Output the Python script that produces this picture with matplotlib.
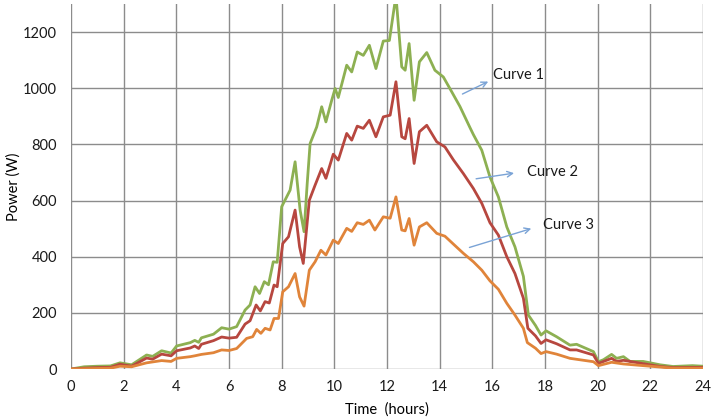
import numpy as np
import matplotlib
matplotlib.use("Agg")
import matplotlib.pyplot as plt

plt.rcParams['font.family'] = ['Lato', 'DejaVu Sans']

# Curve 1 (green) - time in hours, power in W
t1 = [0, 0.5, 1.0, 1.5, 1.86, 2.3, 2.87, 3.1, 3.44, 3.8, 4.01, 4.53, 4.7, 4.85, 4.95,
      5.41, 5.72, 6.0, 6.29, 6.61, 6.8, 6.99, 7.16, 7.34, 7.5, 7.68, 7.83, 8.0, 8.32,
      8.51, 8.7, 8.85, 8.97, 9.08, 9.33, 9.52, 9.68, 9.9, 10.03, 10.15, 10.47, 10.66,
      10.87, 11.1, 11.33, 11.58, 11.86, 12.09, 12.34, 12.56, 12.69, 12.84, 13.03, 13.23,
      13.51, 13.82, 14.14, 14.46, 14.77, 15.15, 15.28, 15.6, 15.91, 16.23, 16.55, 16.86,
      17.18, 17.37, 17.64, 17.85, 18.04, 18.44, 18.95, 19.2, 19.84, 20.03, 20.22, 20.53,
      20.72, 20.98, 21.23, 21.73, 22.37, 22.86, 23.6, 24]
p1 = [0, 8, 10, 11, 22, 15, 50, 45, 65, 57, 82, 94, 102, 95, 111,
      124, 147, 142, 151, 210, 228, 293, 269, 311, 300, 382, 380, 578, 637,
      738, 566, 489, 661, 803, 862, 934, 880, 957, 999, 967, 1082, 1058,
      1129, 1117, 1153, 1070, 1168, 1170, 1330, 1076, 1064, 1159, 957, 1094,
      1127, 1064, 1040, 987, 935, 860, 835, 779, 684, 613, 506, 435,
      330, 192, 155, 121, 136, 115, 85, 88, 62, 26, 33, 52,
      38, 44, 27, 27, 15, 9, 12, 10]

# Curve 2 (red)
t2 = [0, 0.5, 1.0, 1.5, 1.86, 2.3, 2.87, 3.1, 3.44, 3.8, 4.01, 4.53, 4.7, 4.85, 4.95,
      5.41, 5.72, 6.0, 6.29, 6.61, 6.8, 7.03, 7.19, 7.37, 7.53, 7.71, 7.83, 8.04, 8.26,
      8.51, 8.68, 8.82, 9.05, 9.27, 9.52, 9.68, 9.96, 10.15, 10.47, 10.66, 10.87, 11.1,
      11.33, 11.58, 11.86, 12.12, 12.34, 12.56, 12.69, 12.84, 13.03, 13.23, 13.51, 13.89,
      14.2, 14.52, 14.9, 15.28, 15.6, 15.91, 16.23, 16.55, 16.86, 17.18, 17.35, 17.64,
      17.85, 18.04, 18.44, 18.95, 19.2, 19.84, 20.03, 20.53, 20.72, 20.98, 21.73, 22.37,
      22.86, 24]
p2 = [0, 3, 5, 6, 17, 10, 39, 35, 53, 47, 65, 75, 82, 73, 88,
      101, 114, 110, 113, 160, 172, 228, 207, 240, 235, 299, 293, 447, 471,
      566, 435, 376, 601, 655, 714, 679, 765, 744, 839, 815, 865, 857,
      886, 827, 898, 904, 1023, 827, 820, 892, 732, 845, 868, 809,
      791, 745, 696, 643, 590, 521, 477, 400, 340, 252, 145, 118,
      91, 104, 90, 68, 68, 50, 20, 38, 27, 31, 19, 9,
      5, 6]

# Curve 3 (orange)
t3 = [0, 0.5, 1.0, 1.5, 1.86, 2.3, 2.87, 3.44, 3.8, 4.01, 4.53, 4.7, 4.95, 5.41, 5.72,
      6.0, 6.29, 6.67, 6.9, 7.05, 7.21, 7.37, 7.56, 7.71, 7.88, 8.04, 8.26, 8.51, 8.68,
      8.85, 9.05, 9.27, 9.49, 9.68, 9.96, 10.15, 10.47, 10.66, 10.87, 11.1, 11.33, 11.54,
      11.86, 12.12, 12.34, 12.56, 12.69, 12.84, 13.03, 13.23, 13.51, 13.89, 14.2, 14.52,
      14.9, 15.28, 15.6, 15.91, 16.23, 16.55, 16.86, 17.18, 17.33, 17.64, 17.85, 18.04,
      18.44, 18.95, 19.84, 20.03, 20.53, 20.98, 21.73, 22.37, 22.86, 24]
p3 = [0, 1, 2, 3, 10, 8, 22, 30, 27, 38, 44, 47, 52, 58, 68,
      66, 73, 109, 115, 141, 127, 145, 139, 180, 180, 275, 293, 340, 257,
      224, 352, 382, 423, 406, 459, 447, 501, 490, 521, 515, 530, 495,
      542, 537, 613, 495, 492, 536, 441, 506, 521, 483, 473, 445,
      412, 382, 352, 314, 284, 234, 192, 145, 94, 74, 55, 62,
      53, 38, 26, 12, 24, 18, 12, 7, 3, 3]

# annotation labels: (text, arrow start, arrow end) in data coords
labels = ["Curve 1", "Curve 2", "Curve 3"]
arrow_from = [(14.77, 975), (15.28, 676), (15.03, 430)]
arrow_to = [(15.94, 1028), (16.93, 699), (17.58, 503)]
text_pos = [(16.04, 1046), (17.3, 700), (17.94, 512)]

fig = plt.figure(figsize=(7.11, 4.19), dpi=100)
ax = fig.add_axes([0.0999, 0.1193, 0.8888, 0.8712])

ax.plot(t1, p1, color='#8db052', lw=2.0, solid_joinstyle='round')
ax.plot(t2, p2, color='#b7473f', lw=2.0, solid_joinstyle='round')
ax.plot(t3, p3, color='#e0843a', lw=2.0, solid_joinstyle='round')

for lab, a, b, tp in zip(labels, arrow_from, arrow_to, text_pos):
    ax.annotate('', xy=b, xytext=a,
                arrowprops=dict(arrowstyle='->', color='#7aa3d6', lw=1.0))
    ax.text(tp[0], tp[1], lab, fontsize=10.5, va='center', ha='left', color='#1a1a1a')

ax.set_xlim(0, 24)
ax.set_ylim(0, 1300)
ax.set_xticks(np.arange(0, 25, 2))
ax.set_yticks(np.arange(0, 1201, 200))
ax.grid(True, color='#8c8c8c', lw=1.0)
ax.set_axisbelow(True)
for s in ax.spines.values():
    s.set_visible(False)
ax.tick_params(length=0, labelsize=10.5, colors='#1a1a1a')
ax.tick_params(axis='y', pad=10)
ax.tick_params(axis='x', pad=8)

ax.set_xlabel('Time  (hours)', fontsize=10.5, labelpad=6)
ax.set_ylabel('Power (W)', fontsize=10.5)
ax.yaxis.set_label_coords(-0.08, 0.5)

fig.savefig('out.png', dpi=100)
